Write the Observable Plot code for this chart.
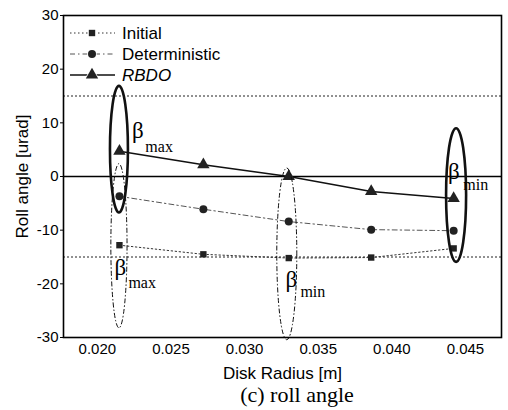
<!DOCTYPE html>
<html>
<head>
<meta charset="utf-8">
<script src="https://cdn.jsdelivr.net/npm/d3@7"></script>
<script src="https://cdn.jsdelivr.net/npm/@observablehq/plot@0.6"></script>
<style>
  body { margin: 0; background: #fff; }
  #wrap { position: relative; width: 508px; height: 410px; }
  #legend { position: absolute; left: 0; top: 0; pointer-events: none; }
  #caption { position: absolute; left: 0; width: 594px; top: 384px; text-align: center;
    font-family: "Liberation Serif", "Times New Roman", serif; font-size: 22px; line-height: 22px; color: #000; }
</style>
</head>
<body>
<div id="wrap">
  <div id="chart"></div>
  <svg id="legend" width="508" height="100"></svg>
  <div id="caption">(c) roll angle</div>
</div>
<script>
// ---- data ----
const radius        = [0.0215, 0.0272, 0.0330, 0.0386, 0.0442];
const initial       = [-12.8, -14.5, -15.2, -15.1, -13.4];
const deterministic = [-3.7, -6.1, -8.4, -9.9, -10.1];
const rbdo          = [4.7, 2.2, 0.0, -2.8, -4.1];
const limits        = [15, -15];
const yTicks        = [-30, -20, -10, 0, 10, 20, 30];
const xTicks        = [0.020, 0.025, 0.030, 0.035, 0.040, 0.045];
const seriesNames   = ["Initial", "Deterministic", "RBDO"];

// ellipse annotations (centre, half-widths in data units)
const ellipseCx = [0.0215, 0.0215, 0.0329, 0.0444];
const ellipseCy = [5.0, -13.0, -14.5, -3.55];
const ellipseRx = [0.00061, 0.00055, 0.00068, 0.00068];
const ellipseRy = [11.8, 15.3, 16.0, 12.45];
const ellipseKind = ["solid", "dashdot", "dashdot", "solid"];

// beta labels
const betaX   = [0.02275, 0.02156, 0.03318, 0.04422];
const betaY   = [7.1, -18.4, -20.5, -0.4];
const subX    = [0.02326, 0.02211, 0.03379, 0.04486];
const subY    = [4.5, -20.7, -22.5, -2.6];
const subText = ["max", "max", "min", "min"];

// ---- tables ----
const styles = {
  Initial:       {stroke: "#333", strokeWidth: 1,   dash: "1.5,2.5", symbol: "square",   r: 3.6},
  Deterministic: {stroke: "#555", strokeWidth: 1,   dash: "5,3,1.5,3", symbol: "circle", r: 4},
  RBDO:          {stroke: "#111", strokeWidth: 1.6, dash: null, symbol: "triangle", r: 4.6}
};
const values = {Initial: initial, Deterministic: deterministic, RBDO: rbdo};
const rows = seriesNames.flatMap(s => radius.map((x, i) => ({series: s, x, y: values[s][i]})));
const ellipses = ellipseCx.map((cx, i) => ({cx, cy: ellipseCy[i], rx: ellipseRx[i], ry: ellipseRy[i], kind: ellipseKind[i]}));
const betas = betaX.map((x, i) => ({x, y: betaY[i], sx: subX[i], sy: subY[i], sub: subText[i]}));

function ellipseMark(data) {
  return Plot.dot(data, {
    x: "cx", y: "cy",
    render(index, scales) {
      const g = d3.create("svg:g");
      for (const i of index) {
        const d = data[i];
        const cx = scales.x(d.cx), cy = scales.y(d.cy);
        const rx = Math.abs(scales.x(d.cx + d.rx) - cx);
        const ry = Math.abs(scales.y(d.cy + d.ry) - cy);
        const e = g.append("ellipse")
          .attr("cx", cx).attr("cy", cy).attr("rx", rx).attr("ry", ry)
          .attr("fill", "none").attr("stroke", "#111");
        if (d.kind === "solid") e.attr("stroke-width", 2.6);
        else e.attr("stroke-width", 1).attr("stroke-dasharray", "5,2,1.5,2");
      }
      return g.node();
    }
  });
}

const font = `"Liberation Sans", Arial, sans-serif`;
const serif = `"Liberation Serif", "Times New Roman", serif`;

const marks = [
  Plot.ruleY(limits, {stroke: "#222", strokeWidth: 1, strokeDasharray: "2,2"}),
  Plot.ruleY([0], {stroke: "#000", strokeWidth: 1.6}),
  ...seriesNames.map(s => Plot.line(rows.filter(d => d.series === s), {
    x: "x", y: "y", stroke: styles[s].stroke, strokeWidth: styles[s].strokeWidth,
    strokeDasharray: styles[s].dash
  })),
  ...seriesNames.map(s => Plot.dot(rows.filter(d => d.series === s), {
    x: "x", y: "y", symbol: styles[s].symbol, r: styles[s].r, fill: "#222", stroke: "none"
  })),
  ellipseMark(ellipses),
  Plot.text(betas, {x: "x", y: "y", text: () => "β", fontFamily: serif, fontSize: 23,
    textAnchor: "middle", lineAnchor: "bottom", fill: "#000"}),
  Plot.text(betas, {x: "sx", y: "sy", text: "sub", fontFamily: serif, fontSize: 16,
    textAnchor: "start", lineAnchor: "bottom", fill: "#000"}),
  Plot.frame({stroke: "#000", strokeWidth: 1.6}),
  Plot.axisY({ticks: yTicks, tickSize: 3, tickPadding: 2, fontSize: 15, tickFormat: d => String(d),
    label: "Roll angle [urad]", labelAnchor: "center", labelArrow: "none", labelOffset: 48}),
  Plot.axisX({ticks: xTicks, tickSize: 0, tickPadding: 6, fontSize: 15, tickFormat: d3.format(".3f"),
    label: "Disk Radius [m]", labelAnchor: "center", labelArrow: "none", labelOffset: 41})
];

const chart = Plot.plot({
  width: 508, height: 410,
  marginLeft: 63, marginRight: 7, marginTop: 15, marginBottom: 73,
  style: {fontFamily: font, fontSize: "15px", color: "#000", background: "#fff"},
  x: {domain: [0.0177, 0.04745]},
  y: {domain: [-30, 30]},
  marks
});
chart.querySelectorAll('[aria-label="y-axis label"] text, [aria-label="x-axis label"] text')
  .forEach(t => t.setAttribute("font-size", "17"));
document.getElementById("chart").appendChild(chart);

// ---- legend (inside the plot, top-left) ----
const lg = d3.select("#legend");
seriesNames.forEach((s, i) => {
  const st = styles[s];
  const cy = 33 + i * 21;
  lg.append("line").attr("x1", 70).attr("x2", 115).attr("y1", cy).attr("y2", cy)
    .attr("stroke", st.stroke).attr("stroke-width", st.strokeWidth)
    .attr("stroke-dasharray", st.dash);
  const sym = d3.symbol(st.symbol === "square" ? d3.symbolSquare : st.symbol === "circle" ? d3.symbolCircle : d3.symbolTriangle,
    Math.PI * st.r * st.r);
  lg.append("path").attr("d", sym()).attr("transform", `translate(92,${cy})`).attr("fill", "#222").attr("stroke", "#fff").attr("stroke-width", 1.5)
    .attr("paint-order", "stroke");
  lg.append("text").attr("x", 122).attr("y", cy + 6).text(s)
    .attr("font-family", font).attr("font-size", 17).attr("fill", "#000")
    .attr("font-style", s === "RBDO" ? "italic" : null);
});
</script>
</body>
</html>
